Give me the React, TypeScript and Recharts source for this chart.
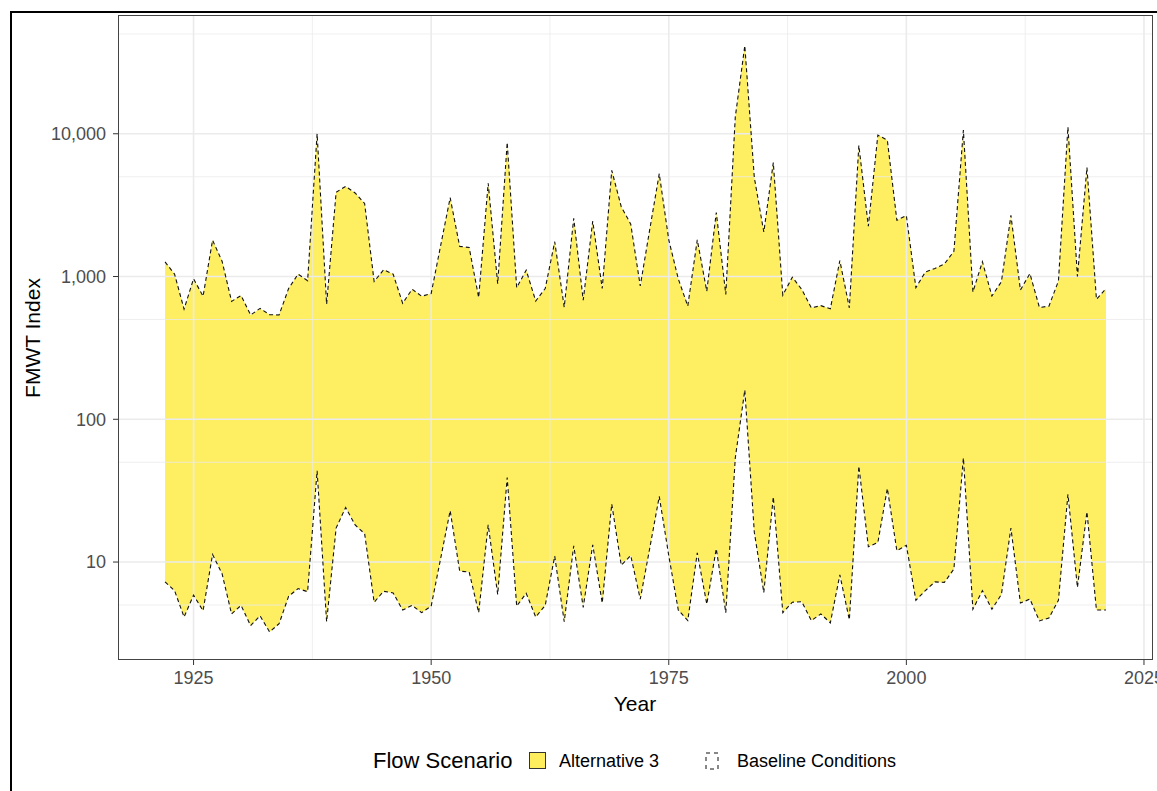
import React from "react";
import { ComposedChart, Area, Line, XAxis, YAxis, ReferenceLine } from "recharts";

// water years, lower / upper FMWT index envelope (baseline == alternative 3)
const years = [
  1922, 1923, 1924, 1925, 1926, 1927, 1928, 1929, 1930, 1931,
  1932, 1933, 1934, 1935, 1936, 1937, 1938, 1939, 1940, 1941,
  1942, 1943, 1944, 1945, 1946, 1947, 1948, 1949, 1950, 1951,
  1952, 1953, 1954, 1955, 1956, 1957, 1958, 1959, 1960, 1961,
  1962, 1963, 1964, 1965, 1966, 1967, 1968, 1969, 1970, 1971,
  1972, 1973, 1974, 1975, 1976, 1977, 1978, 1979, 1980, 1981,
  1982, 1983, 1984, 1985, 1986, 1987, 1988, 1989, 1990, 1991,
  1992, 1993, 1994, 1995, 1996, 1997, 1998, 1999, 2000, 2001,
  2002, 2003, 2004, 2005, 2006, 2007, 2008, 2009, 2010, 2011,
  2012, 2013, 2014, 2015, 2016, 2017, 2018, 2019, 2020, 2021,
];

const upper = [
  1265, 1040, 591, 964, 727, 1798, 1280, 670, 736, 538,
  598, 540, 538, 824, 1040, 935, 10000, 641, 3890, 4280,
  3846, 3247, 923, 1115, 1040, 649, 815, 727, 760, 1650,
  3565, 1626, 1596, 713, 4500, 889, 8710, 835, 1108, 674,
  824, 1753, 610, 2557, 683, 2445, 824, 5537, 3085, 2326,
  858, 2140, 5250, 1808, 964, 621, 1808, 789, 2810, 750,
  13100, 41400, 4946, 2050, 6280, 740, 990, 811, 604, 625,
  594, 1294, 604, 8280, 2250, 9800, 9000, 2477, 2673, 836,
  1075, 1140, 1225, 1500, 10600, 780, 1270, 730, 920, 2680,
  805, 1048, 607, 620, 930, 11150, 1000, 5800, 693, 822,
];

const lower = [
  7.26, 6.31, 4.12, 5.86, 4.56, 11.3, 8.28, 4.33, 4.97, 3.59,
  4.2, 3.24, 3.7, 5.75, 6.52, 6.2, 43.5, 3.82, 17.3, 24.1,
  18.2, 15.8, 5.23, 6.24, 6.08, 4.61, 4.97, 4.42, 4.91, 10.6,
  22.9, 8.65, 8.5, 4.42, 18.2, 5.93, 39.1, 4.91, 6.04, 4.12,
  4.97, 11.0, 3.82, 13.0, 4.82, 13.2, 5.16, 25.5, 9.5, 11.1,
  5.5, 12.5, 28.8, 11.1, 4.61, 3.89, 11.6, 5.07, 12.4, 4.42,
  53.6, 160, 16.2, 6.12, 28.6, 4.42, 5.23, 5.27, 3.89, 4.33,
  3.75, 8.13, 3.94, 47, 12.8, 13.7, 32.8, 12.0, 13.1, 5.4,
  6.31, 7.26, 7.2, 8.93, 53.6, 4.67, 6.31, 4.67, 5.93, 17.3,
  5.16, 5.5, 3.87, 4.06, 5.4, 29.8, 6.64, 22.5, 4.61, 4.61,
];

const xTicks = [1925, 1950, 1975, 2000, 2025];
const xMinor = [1937.5, 1962.5, 1987.5, 2012.5];
const yTicks = [10, 100, 1000, 10000];
const yMinor = [5, 50, 500, 5000, 50000];

const data = years.map((year, i) => ({ year, lo: lower[i], hi: upper[i] }));

const FONT = "'Liberation Sans', Arial, Helvetica, sans-serif";
const YELLOW = "#FDE725";
const tickStyle = { fontSize: 18, fill: "#4d4d4d", fontFamily: FONT };

export default function App() {
  return (
    <div
      style={{
        position: "absolute",
        left: 0,
        top: 0,
        width: 1157,
        height: 791,
        background: "#fff",
        overflow: "hidden",
        fontFamily: FONT,
      }}
    >
      <ComposedChart
        width={1157}
        height={700}
        data={data}
        margin={{ top: 15, right: 4, bottom: 0, left: 18 }}
      >
        <XAxis
          dataKey="year"
          type="number"
          domain={[1917.05, 2025.95]}
          allowDataOverflow
          ticks={xTicks}
          interval={0}
          height={40}
          axisLine={false}
          tickSize={5}
          tickMargin={6}
          tickLine={{ stroke: "#333" }}
          tick={tickStyle}
        />
        <YAxis
          scale="log"
          domain={[2.06, 67900]}
          allowDataOverflow
          ticks={yTicks}
          interval={0}
          width={100}
          axisLine={false}
          tickSize={5}
          tickMargin={7}
          tickLine={{ stroke: "#333" }}
          tick={tickStyle}
          tickFormatter={(v: number) => v.toLocaleString("en-US")}
        />
        {yMinor.map((v) => (
          <ReferenceLine key={"ym" + v} y={v} stroke="#ebebeb" strokeWidth={0.8} />
        ))}
        {xMinor.map((v) => (
          <ReferenceLine key={"xm" + v} x={v} stroke="#ebebeb" strokeWidth={0.8} />
        ))}
        {yTicks.map((v) => (
          <ReferenceLine key={"y" + v} y={v} stroke="#ebebeb" strokeWidth={1.6} />
        ))}
        {xTicks.map((v) => (
          <ReferenceLine key={"x" + v} x={v} stroke="#ebebeb" strokeWidth={1.6} />
        ))}
        <Area
          dataKey={(d: { lo: number; hi: number }) => [d.lo, d.hi]}
          type="linear"
          stroke="none"
          fill={YELLOW}
          fillOpacity={0.72}
          isAnimationActive={false}
        />
        <Line
          dataKey="hi"
          type="linear"
          stroke="#111"
          strokeWidth={1.1}
          strokeDasharray="4 3"
          dot={false}
          activeDot={false}
          isAnimationActive={false}
        />
        <Line
          dataKey="lo"
          type="linear"
          stroke="#111"
          strokeWidth={1.1}
          strokeDasharray="4 3"
          dot={false}
          activeDot={false}
          isAnimationActive={false}
        />
      </ComposedChart>

      {/* panel border */}
      <div
        style={{
          position: "absolute",
          left: 118,
          top: 15,
          width: 1035,
          height: 645,
          border: "1px solid #444",
          boxSizing: "border-box",
          pointerEvents: "none",
        }}
      />

      {/* screenshot frame */}
      <div style={{ position: "absolute", left: 10, top: 11, width: 2, height: 780, background: "#000" }} />
      <div style={{ position: "absolute", left: 10, top: 11, width: 1147, height: 2, background: "#000" }} />

      {/* axis titles */}
      <div
        style={{
          position: "absolute",
          left: 535,
          width: 200,
          top: 692,
          textAlign: "center",
          fontSize: 21,
          color: "#000",
          lineHeight: "24px",
        }}
      >
        Year
      </div>
      <div
        style={{
          position: "absolute",
          left: 33 - 100,
          top: 338 - 12,
          width: 200,
          height: 24,
          lineHeight: "24px",
          textAlign: "center",
          fontSize: 21,
          color: "#000",
          transform: "rotate(-90deg)",
        }}
      >
        FMWT Index
      </div>

      {/* legend */}
      <div
        style={{
          position: "absolute",
          left: 373,
          top: 749,
          height: 24,
          lineHeight: "24px",
          fontSize: 22,
          color: "#000",
        }}
      >
        Flow Scenario
      </div>
      <div
        style={{
          position: "absolute",
          left: 529,
          top: 752,
          width: 17,
          height: 17,
          boxSizing: "border-box",
          background: "#FEED5C",
          border: "1px solid #333",
        }}
      />
      <div
        style={{
          position: "absolute",
          left: 559,
          top: 750,
          height: 22,
          lineHeight: "22px",
          fontSize: 18,
          color: "#000",
        }}
      >
        Alternative 3
      </div>
      <svg style={{ position: "absolute", left: 705, top: 752 }} width={15} height={18}>
        <rect x={1} y={1} width={12} height={16} fill="none" stroke="#111" strokeWidth={1} strokeDasharray="4 4" />
      </svg>
      <div
        style={{
          position: "absolute",
          left: 737,
          top: 750,
          height: 22,
          lineHeight: "22px",
          fontSize: 18,
          color: "#000",
        }}
      >
        Baseline Conditions
      </div>
    </div>
  );
}
